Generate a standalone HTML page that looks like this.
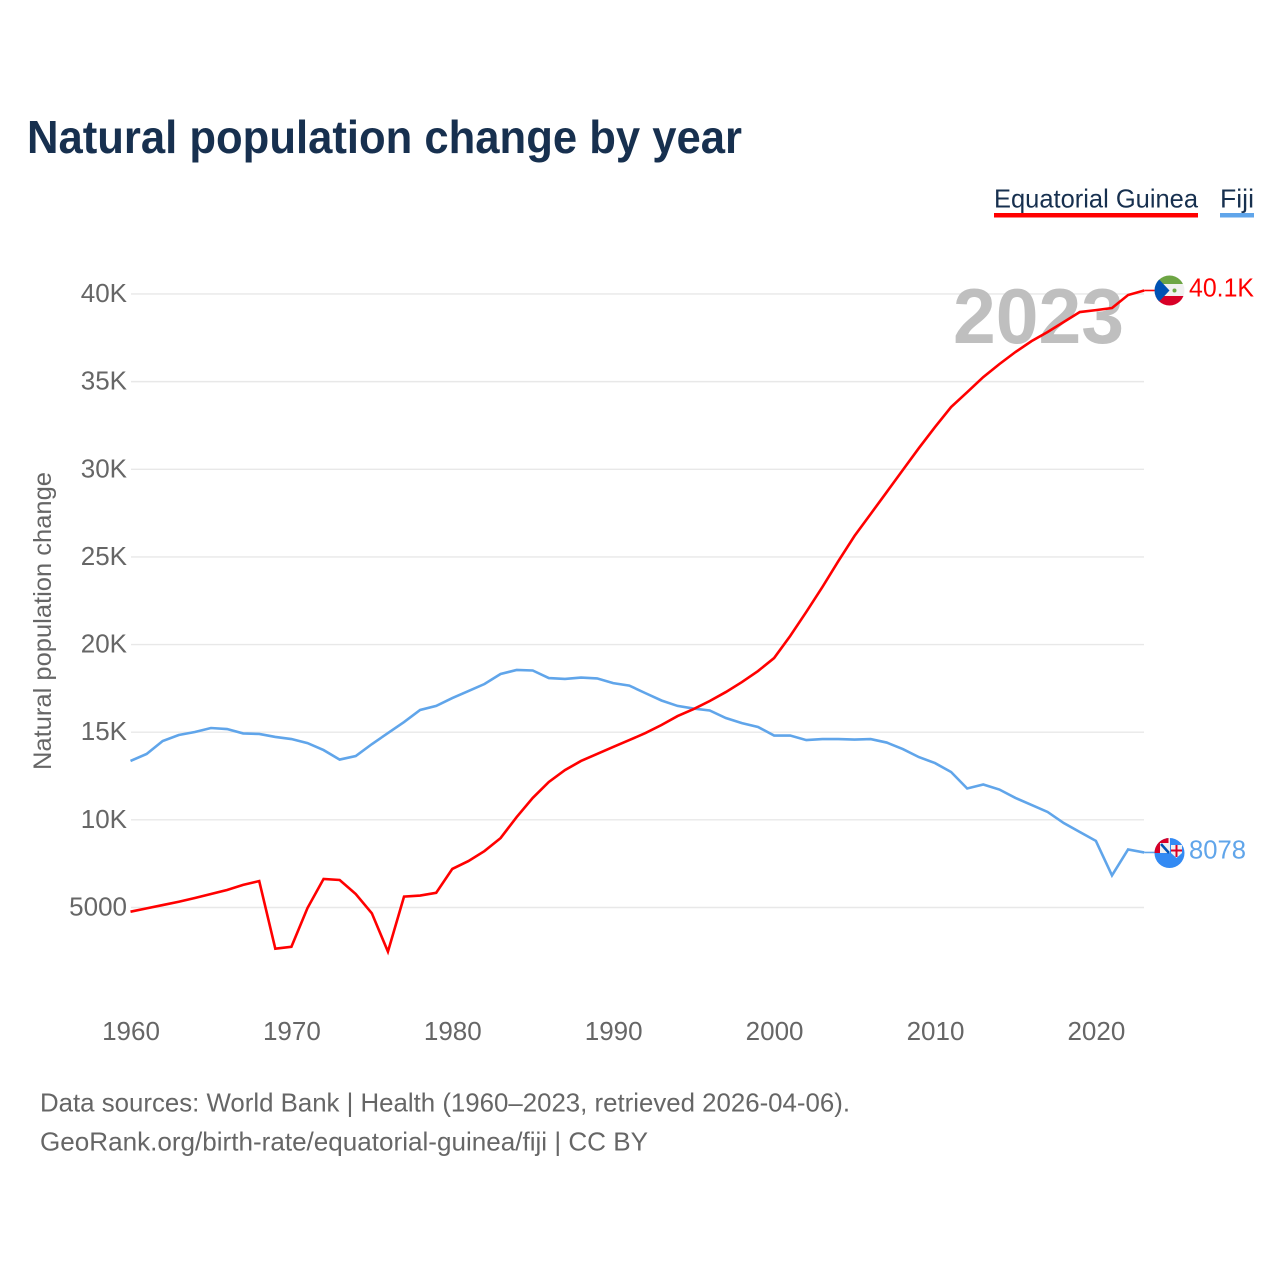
<!DOCTYPE html>
<html lang="en">
<head>
<meta charset="utf-8">
<title>Natural population change by year</title>
<style>
html,body{margin:0;padding:0;background:#fff;width:1280px;height:1280px;overflow:hidden}
svg{display:block}
text{font-family:"Liberation Sans",sans-serif}
</style>
</head>
<body>
<svg id="chart" xmlns="http://www.w3.org/2000/svg" width="1280" height="1280" viewBox="0 0 1280 1280">
  <defs>
    <clipPath id="clip-eg"><circle cx="1169.5" cy="290.5" r="15"></circle></clipPath>
    <clipPath id="clip-fj"><circle cx="1169.5" cy="853" r="15"></circle></clipPath>
  </defs>
  <rect width="1280" height="1280" fill="#ffffff"></rect>
  <text x="27" y="153" font-size="46" font-weight="700" fill="#17304f" textLength="715" lengthAdjust="spacingAndGlyphs">Natural population change by year</text>

  <g>
    <g>
      <text x="994" y="207.5" font-size="26" fill="#17304f" textLength="204" lengthAdjust="spacingAndGlyphs">Equatorial Guinea</text>
      <rect x="994" y="213" width="204" height="4.5" fill="#ff0000"></rect>
    </g>
    <g>
      <text x="1220" y="207.5" font-size="26" fill="#17304f" textLength="34" lengthAdjust="spacingAndGlyphs">Fiji</text>
      <rect x="1220" y="213" width="34" height="4.5" fill="#60a5ea"></rect>
    </g>
  </g>

  <g id="grid"></g>
  <text x="953" y="343" font-size="78" font-weight="700" fill="#bfbfbf" textLength="171" lengthAdjust="spacingAndGlyphs">2023</text>
  <g id="y-ticks"></g>
  <g id="x-ticks"></g>
  <text transform="translate(51,621) rotate(-90)" text-anchor="middle" font-size="25" fill="#666666" textLength="298" lengthAdjust="spacingAndGlyphs">Natural population change</text>

  <g id="series"></g>

  <g clip-path="url(#clip-eg)">
    <rect x="1154" y="275" width="31" height="9" fill="#6da544"></rect>
    <rect x="1154" y="284" width="31" height="12" fill="#f0f0f0"></rect>
    <rect x="1154" y="296" width="31" height="10" fill="#d80027"></rect>
    <polygon points="1154,274 1169.5,290.5 1154,307" fill="#0052b4"></polygon>
    <circle cx="1174.5" cy="290.5" r="2" fill="#6da544"></circle>
  </g>

  <g clip-path="url(#clip-fj)">
    <rect x="1154" y="837" width="31" height="32" fill="#338af3"></rect>
    <rect x="1154" y="837" width="14.5" height="16" fill="#d80027"></rect>
    <rect x="1168.5" y="837" width="1.5" height="16" fill="#f0f0f0"></rect>
    <rect x="1160" y="843" width="8.5" height="10" fill="#f0f0f0"></rect>
    <line x1="1161" y1="844" x2="1169" y2="853" stroke="#0052b4" stroke-width="2.5"></line>
    <polygon points="1171,845 1182,845 1182,853 1176.5,858 1171,853" fill="#f0f0f0"></polygon>
    <rect x="1175.5" y="845" width="2" height="12" fill="#d80027"></rect>
    <rect x="1171" y="849.5" width="11" height="2" fill="#d80027"></rect>
  </g>

  <g id="end-labels"></g>

  <text x="40" y="1111.5" font-size="26" fill="#666666" textLength="810" lengthAdjust="spacingAndGlyphs">Data sources: World Bank | Health (1960–2023, retrieved 2026-04-06).</text>
  <text x="40" y="1150.5" font-size="26" fill="#666666" textLength="608" lengthAdjust="spacingAndGlyphs">GeoRank.org/birth-rate/equatorial-guinea/fiji | CC BY</text>
</svg>

<script>
const startYear = 1960;
const equatorialGuinea = [4760,4950,5140,5330,5540,5770,6000,6290,6510,2650,2760,4970,6630,6570,5770,4670,2480,5620,5680,5840,7200,7650,8220,8960,10160,11250,12160,12840,13360,13760,14160,14550,14950,15410,15920,16320,16780,17290,17860,18490,19230,20490,21860,23280,24770,26200,27450,28700,29960,31210,32410,33550,34400,35260,36000,36690,37310,37830,38400,38970,39080,39200,39940,40200];
const fiji = [13360,13760,14500,14840,15010,15240,15180,14930,14900,14730,14610,14380,13980,13440,13640,14320,14950,15580,16270,16500,16950,17350,17750,18320,18550,18520,18090,18040,18120,18070,17800,17660,17230,16810,16500,16350,16240,15810,15520,15300,14810,14810,14550,14610,14610,14580,14610,14410,14040,13580,13240,12730,11790,12020,11730,11250,10850,10450,9820,9310,8800,6830,8310,8140];
const yTickValues = [5000,10000,15000,20000,25000,30000,35000,40000];
const yTickLabels = ["5000","10K","15K","20K","25K","30K","35K","40K"];
const xTickYears = [1960,1970,1980,1990,2000,2010,2020];
const endLabelEG = "40.1K";
const endLabelFJ = "8078";

const NS = "http://www.w3.org/2000/svg";
const xScale = function (year) { return 130.5 + (year - 1960) * 16.09; };
const yScale = function (v) { return 907.5 - (v - 5000) * 0.017529; };

function make(tag, parent, attrs, txt) {
  const el = document.createElementNS(NS, tag);
  for (const k in attrs) el.setAttribute(k, attrs[k]);
  if (txt !== undefined) el.textContent = txt;
  parent.appendChild(el);
  return el;
}

const gridG = document.getElementById("grid");
const yG = document.getElementById("y-ticks");
yTickValues.forEach(function (v, i) {
  const y = yScale(v);
  const ln = make("line", gridG, {x1: 131, x2: 1144, y1: y, y2: y, stroke: "#e8e8e8", "stroke-width": 1.4});
  
  
  const t = make("text", yG, {x: 127, y: y + 8, "text-anchor": "end", "font-size": 26, fill: "#666666"}, yTickLabels[i]);
  
  
});

const xG = document.getElementById("x-ticks");
xTickYears.forEach(function (yr) {
  const t = make("text", xG, {x: xScale(yr) + 0.5, y: 1040, "text-anchor": "middle", "font-size": 26, fill: "#666666"}, String(yr));
  
  
});

const seriesG = document.getElementById("series");
const endG = document.getElementById("end-labels");

function pathFor(values) {
  return values.map(function (v, i) {
    return (i ? "L" : "M") + xScale(startYear + i).toFixed(2) + " " + yScale(v).toFixed(2);
  }).join(" ");
}

function endOf(values) {
  const last = values.length - 1;
  return {x: xScale(startYear + last), y: yScale(values[last])};
}

const fjPath = make("path", seriesG, {d: pathFor(fiji), fill: "none", stroke: "#60a5ea", "stroke-width": 2.6, "stroke-linejoin": "miter"});


const egPath = make("path", seriesG, {d: pathFor(equatorialGuinea), fill: "none", stroke: "#ff0000", "stroke-width": 2.6, "stroke-linejoin": "miter"});



const egEnd = endOf(equatorialGuinea);
const fjEnd = endOf(fiji);
const egConn = make("line", seriesG, {x1: egEnd.x, x2: 1155, y1: egEnd.y, y2: egEnd.y, stroke: "#ff0000", "stroke-width": 1.6});


const fjConn = make("line", seriesG, {x1: fjEnd.x, x2: 1155, y1: fjEnd.y, y2: fjEnd.y, stroke: "#60a5ea", "stroke-width": 1.6});



const egLabel = make("text", endG, {x: 1189, y: egEnd.y + 6, "font-size": 26, fill: "#ff0000", textLength: 65, lengthAdjust: "spacingAndGlyphs"}, endLabelEG);


const fjLabel = make("text", endG, {x: 1189, y: fjEnd.y + 6, "font-size": 26, fill: "#60a5ea", textLength: 57, lengthAdjust: "spacingAndGlyphs"}, endLabelFJ);


</script>
</body>
</html>
